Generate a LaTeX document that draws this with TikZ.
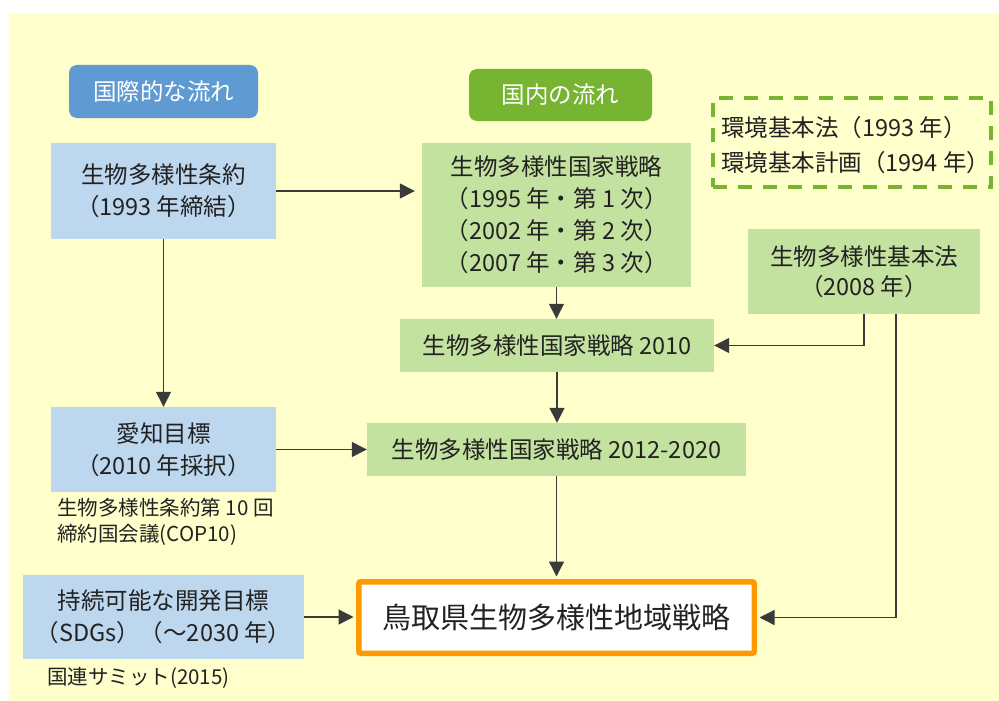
\documentclass[tikz,border=0pt]{standalone}
\usepackage{fontspec}
\setmainfont{Noto Sans CJK JP}
\usetikzlibrary{arrows.meta}
\definecolor{bgy}{HTML}{FFFFCC}
\definecolor{hblue}{HTML}{5F9BD2}
\definecolor{hgreen}{HTML}{76B432}
\definecolor{lblue}{HTML}{BDD7EE}
\definecolor{lgreen}{HTML}{C4E29F}
\definecolor{orng}{HTML}{FF9900}
\definecolor{txt}{HTML}{222222}
\definecolor{lin}{HTML}{3A3A3A}
\tikzset{
  base/.style={inner sep=0pt, align=center, text=txt, font=\fontsize{23.5}{32}\selectfont},
  bluebox/.style={base, fill=lblue},
  greenbox/.style={base, fill=lgreen},
  header/.style={inner sep=0pt, text=white, rounded corners=8pt, font=\fontsize{23.5}{30}\selectfont},
  note/.style={inner sep=0pt, align=left, anchor=west, text=txt, font=\fontsize{20.5}{26}\selectfont},
  arr/.style={draw=lin, line width=1.3pt, -{Triangle[length=15pt,width=15pt]}},
}
\begin{document}
\begin{tikzpicture}[x=1pt,y=-1pt]
\useasboundingbox (0,0) rectangle (999,701);
\fill[bgy] (9,13) rectangle (999,701);

% headers
\node[header, fill=hblue, minimum width=189pt, minimum height=53pt] (h1) at (163.5,91.5) {国際的な流れ};
\node[header, fill=hgreen, minimum width=183pt, minimum height=52pt] (h2) at (560.5,95) {国内の流れ};

% dashed box
\node[draw=hgreen, line width=3.5pt, dash pattern=on 14pt off 11pt, minimum width=278pt, minimum height=89pt, inner sep=0pt] (env) at (852,142.5) {};
\node[base, align=left, anchor=west, font=\fontsize{23.5}{35}\selectfont] (envt) at (721,145.5) {環境基本法（1993 年）\\環境基本計画（1994 年）};

% boxes
\node[bluebox, minimum width=225pt, minimum height=96pt] (A) at (163.5,191) {生物多様性条約\\（1993 年締結）};
\node[greenbox, minimum width=269pt, minimum height=144pt] (B) at (556.5,215) {生物多様性国家戦略\\（1995 年・第 1 次）\\（2002 年・第 2 次）\\（2007 年・第 3 次）};
\node[greenbox, minimum width=232pt, minimum height=85pt, font=\fontsize{23.5}{30}\selectfont] (C) at (864,271.5) {生物多様性基本法\\（2008 年）};
\node[greenbox, minimum width=314pt, minimum height=53pt] (D) at (557,345.5) {生物多様性国家戦略 2010};
\node[greenbox, minimum width=379pt, minimum height=53pt] (E) at (556.5,449.5) {生物多様性国家戦略 2012-2020};
\node[bluebox, minimum width=225pt, minimum height=85pt] (F) at (163.5,449.5) {愛知目標\\（2010 年採択）};
\node[note] (Fn) at (57,522) {生物多様性条約第 10 回\\締約国会議(COP10)};
\node[bluebox, minimum width=281pt, minimum height=84pt] (G) at (163.5,617) {持続可能な開発目標\\（SDGs）（～2030 年）};
\node[note] (Gn) at (47,678) {国連サミット(2015)};
\node[base, fill=white, draw=orng, line width=5.5pt, rounded corners=2pt, minimum width=395.5pt, minimum height=71.5pt, font=\fontsize{29}{34}\selectfont] (H) at (556.5,617.5) {鳥取県生物多様性地域戦略};

% connectors
\draw[arr, shorten >=7pt] (A.east) -- (A.east -| B.west);
\draw[arr] (A.south) -- (F.north);
\draw[arr] (B.south) -- (B.south |- D.north);
\draw[arr] (C.south) |- (D.east);
\draw[arr] (D.south) -- (D.south |- E.north);
\draw[arr] (F.east) -- (E.west);
\draw[arr, shorten >=2.5pt] (E.south) -- (E.south |- H.north);
\draw[arr, shorten >=2.5pt] (G.east) -- (G.east -| H.west);
\draw[arr, shorten >=2.5pt] ([xshift=32pt]C.south) |- (H.east);
\end{tikzpicture}
\end{document}
